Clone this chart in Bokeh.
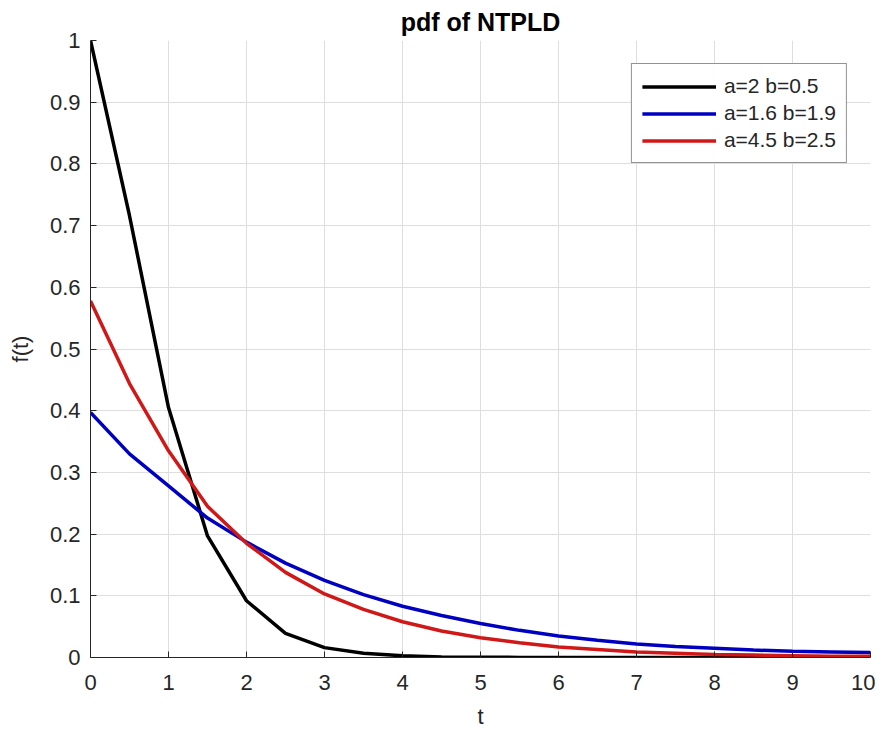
from bokeh.plotting import figure
from bokeh.models import FixedTicker, Legend, LegendItem, Range1d
from bokeh.embed import file_html
from bokeh.resources import INLINE

t = [0, 0.5, 1, 1.5, 2, 2.5, 3, 3.5, 4, 4.5, 5, 5.5, 6, 6.5, 7, 7.5, 8, 8.5, 9, 9.5, 10]
f_black = [1.0, 0.716, 0.405, 0.197, 0.092, 0.039, 0.016, 0.007, 0.003, 0.001, 0.0005,
           0.0002, 0.0001, 0.0, 0.0, 0.0, 0.0, 0.0, 0.0, 0.0, 0.0]
f_blue = [0.397, 0.33, 0.278, 0.226, 0.187, 0.153, 0.125, 0.102, 0.083, 0.068, 0.055,
          0.044, 0.035, 0.028, 0.022, 0.018, 0.015, 0.012, 0.010, 0.009, 0.008]
f_red = [0.578, 0.444, 0.335, 0.245, 0.185, 0.138, 0.103, 0.078, 0.058, 0.043, 0.032,
         0.024, 0.017, 0.013, 0.009, 0.007, 0.005, 0.004, 0.003, 0.002, 0.002]
labels = ["a=2 b=0.5", "a=1.6 b=1.9", "a=4.5 b=2.5"]
x_ticks = [0, 1, 2, 3, 4, 5, 6, 7, 8, 9, 10]
y_ticks = [0, 0.1, 0.2, 0.3, 0.4, 0.5, 0.6, 0.7, 0.8, 0.9, 1]
y_tick_labels = ["0", "0.1", "0.2", "0.3", "0.4", "0.5", "0.6", "0.7", "0.8", "0.9", "1"]

FONT = "Liberation Sans"
TXT = "#262626"

p = figure(width=875, height=731, output_backend="svg", toolbar_location=None,
           x_range=Range1d(0, 10), y_range=Range1d(0, 1),
           min_border_left=90, min_border_right=5, min_border_top=40, min_border_bottom=74,
           title="pdf of NTPLD")
p.title.align = "center"
p.title.text_font = FONT
p.title.text_font_size = "25px"
p.title.text_font_style = "bold"
p.title.text_color = "black"
p.title.standoff = 10
p.outline_line_color = None

for ax in (p.xaxis[0], p.yaxis[0]):
    ax.major_label_text_font = FONT
    ax.major_label_text_font_size = "22px"
    ax.major_label_text_color = TXT
    ax.axis_label_text_font = FONT
    ax.axis_label_text_font_size = "22px"
    ax.axis_label_text_font_style = "normal"
    ax.axis_label_text_color = TXT
    ax.axis_line_color = TXT
    ax.major_tick_line_color = TXT
    ax.major_tick_in = 6
    ax.major_tick_out = 0
    ax.minor_tick_line_color = None

p.xaxis.ticker = FixedTicker(ticks=x_ticks)
p.yaxis.ticker = FixedTicker(ticks=y_ticks)
p.yaxis.major_label_overrides = {v: s for v, s in zip(y_ticks, y_tick_labels)}
p.xaxis.axis_label = "t"
p.yaxis.axis_label = "f(t)"
p.xaxis.major_label_standoff = 17
p.yaxis.major_label_standoff = 10
p.xaxis.axis_label_standoff = 11
p.yaxis.axis_label_standoff = 14

p.xgrid.grid_line_color = "#dedede"
p.ygrid.grid_line_color = "#dedede"

r1 = p.line(t, f_black, line_color="black", line_width=3.5)
r2 = p.line(t, f_blue, line_color="#0000c0", line_width=3.5)
r3 = p.line(t, f_red, line_color="#d01818", line_width=3.5)

legend = Legend(items=[LegendItem(label=labels[0], renderers=[r1]),
                       LegendItem(label=labels[1], renderers=[r2]),
                       LegendItem(label=labels[2], renderers=[r3])],
                location="top_right")
legend.label_text_font = FONT
legend.label_text_font_size = "21px"
legend.label_text_color = TXT
legend.border_line_color = TXT
legend.border_line_width = 1
legend.glyph_width = 74
legend.glyph_height = 21
legend.label_height = 21
legend.spacing = 3
legend.padding = 10
legend.margin = 23
legend.label_standoff = 8
p.add_layout(legend)

open("out.html", "w").write(file_html(p, INLINE))
